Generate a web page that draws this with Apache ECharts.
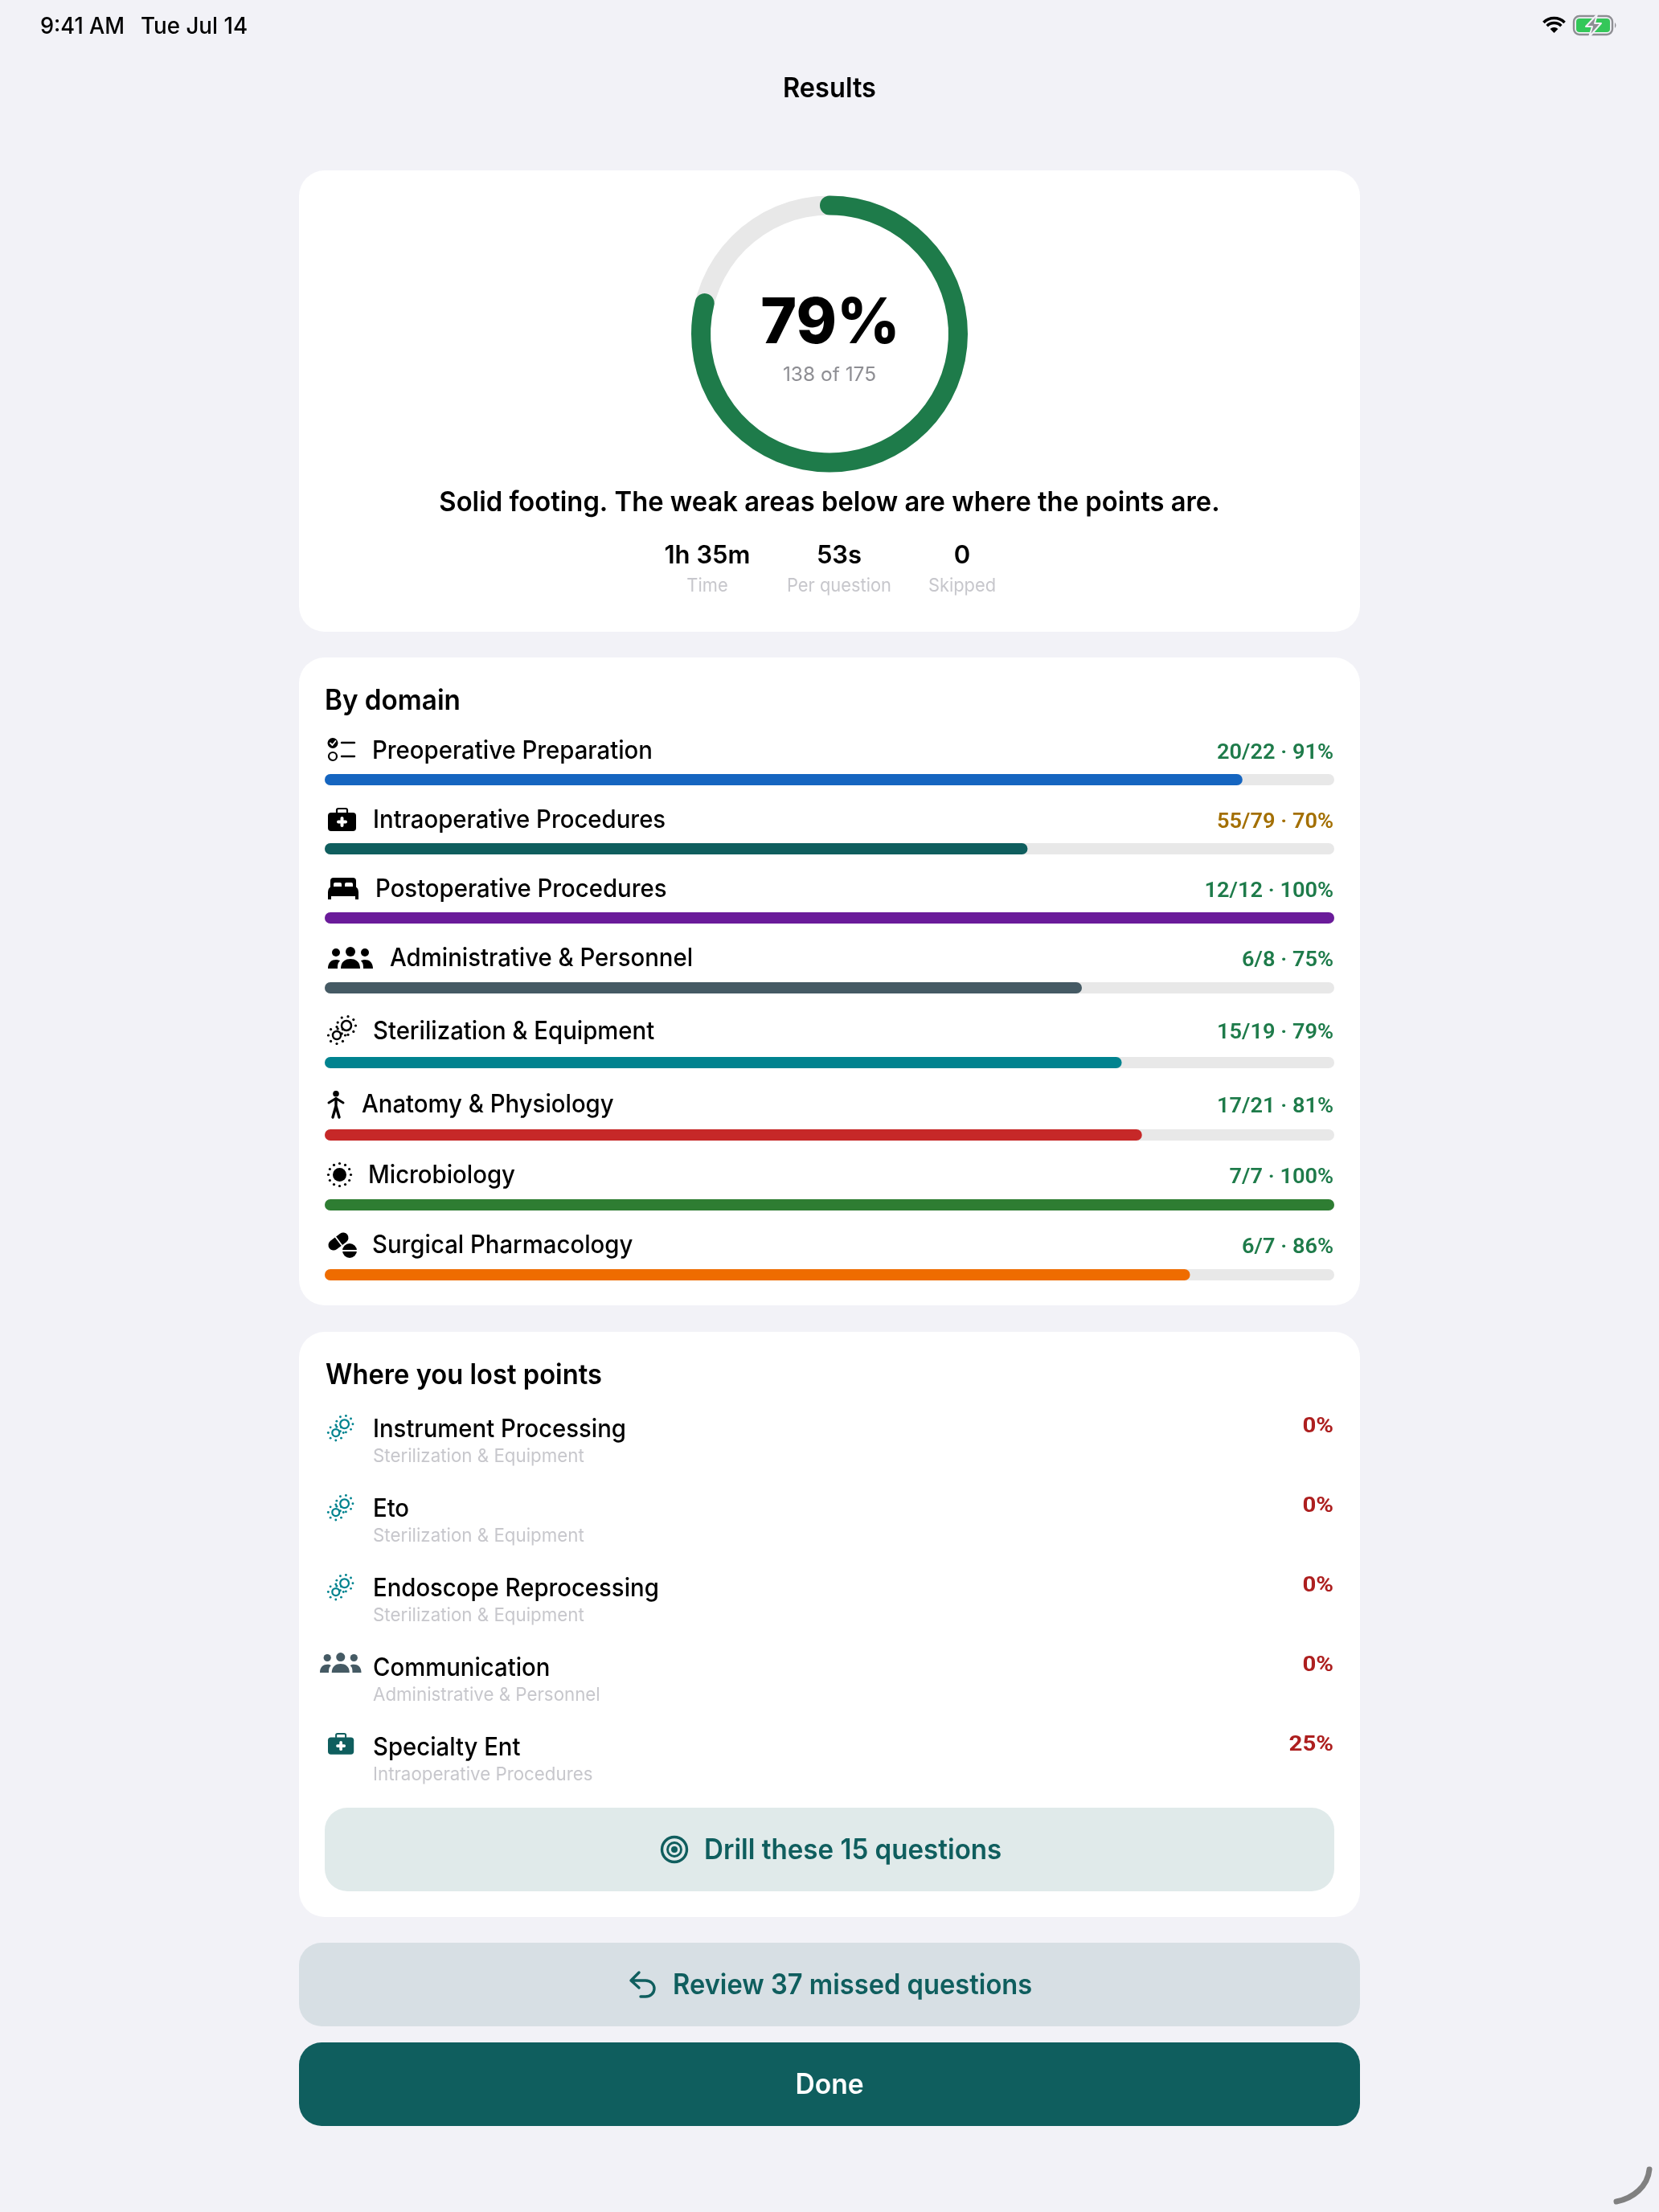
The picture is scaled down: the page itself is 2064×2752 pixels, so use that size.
<!DOCTYPE html>
<html>
<head>
<meta charset="utf-8">
<title>Results</title>
<script src="https://cdn.jsdelivr.net/npm/echarts@6/dist/echarts.min.js"></script>
<style>
html,body{margin:0;padding:0;background:#F2F2F7}
#main{width:2064px;height:2752px}
</style>
</head>
<body>
<div id="main"></div>
<script>
// score ring
var scoreCorrect = 138;
var scoreTotal = 175;

// by domain
var domains = ['Preoperative Preparation','Intraoperative Procedures','Postoperative Procedures','Administrative & Personnel','Sterilization & Equipment','Anatomy & Physiology','Microbiology','Surgical Pharmacology'];
var domainCorrect = [20,55,12,6,15,17,7,6];
var domainTotal = [22,79,12,8,19,21,7,7];
var domainPct = [91,70,100,75,79,81,100,86];

// where you lost points
var lostTopics = ['Instrument Processing','Eto','Endoscope Reprocessing','Communication','Specialty Ent'];
var lostDomains = ['Sterilization & Equipment','Sterilization & Equipment','Sterilization & Equipment','Administrative & Personnel','Intraoperative Procedures'];
var lostPct = [0,0,0,0,25];

// summary
var statValues = ['1h 35m','53s','0'];
var statLabels = ['Time','Per question','Skipped'];

// layout, kept apart from the data
var domainColors = ['#1565C0','#0F5E5E','#6A1B9A','#455A64','#00838F','#C62828','#2E7D32','#EF6C00'];
var domainIcons = ['checklist','kit','bed','people','steril','person','sun','pills'];
var barY = [970,1056,1142,1229,1322,1412,1499,1586];
var labelX = [463,464,467,485,464,450,458,463];
var labelY = [935,1021,1107,1193,1284,1375,1463,1550];
var scoreY = [937,1023,1109,1195,1285,1377,1465,1552];
var iconX = [408,408,408,408,407,408,407,408];
var iconY = [918,1005,1092,1179,1263,1357,1446,1533];
var lostY = [1779,1878,1977,2076,2175];
var lostIcon = [['steril',407,1760,'#00838F'],['steril',407,1859,'#00838F'],['steril',407,1958,'#00838F'],['people',398,2057,'#455A64'],['kit',408,2156,'#0F5E5E']];

var FONT = 'Inter';
var TEAL = '#0F5E5E';

// sx squeezes the run sideways, Inter sets wider than the original face
function txt(text,x,y,size,weight,color,align,sx,family){
	return {type:'text',z:20,silent:true,x:x,y:y,scaleX:sx||1,style:{text:text,x:0,y:0,fill:color,font:weight+' '+size+'px '+(family||FONT),textAlign:align||'left',textVerticalAlign:'middle'}};
}
function box(x,y,w,h,r,color){
	return {type:'rect',z:1,silent:true,shape:{x:x,y:y,width:w,height:h,r:r},style:{fill:color}};
}
function circle(cx,cy,r,color){
	return {type:'circle',z:20,shape:{cx:cx,cy:cy,r:r},style:{fill:color}};
}
function ring(cx,cy,r,lw,color){
	return {type:'circle',z:20,shape:{cx:cx,cy:cy,r:r},style:{fill:'none',stroke:color,lineWidth:lw}};
}
function line(x1,y1,x2,y2,lw,color){
	return {type:'line',z:20,shape:{x1:x1,y1:y1,x2:x2,y2:y2},style:{stroke:color,lineWidth:lw,lineCap:'round'}};
}
// the graphic component has no plain svg path type, so each one is registered as a shape
var pathCount = 0;
function path(d,fill,stroke,lw){
	var name = 'iconPath'+(pathCount++);
	echarts.graphic.registerShape(name,echarts.graphic.extendPath(d,{}));
	return {type:name,z:20,style:{fill:fill||'none',stroke:stroke||'none',lineWidth:lw||0,lineCap:'round',lineJoin:'round'}};
}
function dots(cx,cy,r,n,dr,color){
	var out=[];
	for(var i=0;i<n;i++){
		var a=i/n*Math.PI*2;
		out.push(circle(cx+Math.cos(a)*r,cy+Math.sin(a)*r,dr,color));
	}
	return out;
}
function box2(x,y,w,h,color){
	return {type:'rect',z:20,shape:{x:x,y:y,width:w,height:h,r:2},style:{fill:color}};
}
// small pictograms, drawn in their own local pixels
function iconParts(name,c){
	if(name=='checklist') return [
		circle(6,6.5,6.5,c),path('M3 6.5 L5.5 9 L9.5 4','none','#fff',1.8),
		ring(6,23,5,2.2,c),line(17,6,33,6,2.4,c),line(17,23,33,23,2.4,c)];
	if(name=='kit') return [
		path('M4 6 H31 Q35 6 35 10 V25 Q35 29 31 29 H4 Q0 29 0 25 V10 Q0 6 4 6 Z',c),
		path('M11 6 V3 Q11 1 13 1 H22 Q24 1 24 3 V6','none',c,2.2),
		line(17.5,13,17.5,22,4,'#fff'),line(13,17.5,22,17.5,4,'#fff')];
	if(name=='bed') return [
		path('M3 13 V4 Q3 0 7 0 H31 Q35 0 35 4 V13 Z',c),
		box2(7,6,10,7,'#fff'),box2(21,6,10,7,'#fff'),
		path('M5 11 H33 Q38 12 38 18 V27 H34 V23 H4 V27 H0 V18 Q0 12 5 11 Z',c)];
	if(name=='people') return [
		circle(10,6,5,c),circle(28,5,6,c),circle(46,6,5,c),
		path('M16 26 C16 17 22 14 28 14 C34 14 40 17 40 26 Z',c),
		path('M0 26 C0 18 5 15 10 15 C12 15 14 15.5 15 16.5 C12 19 12 22 12 26 Z',c),
		path('M56 26 C56 18 51 15 46 15 C44 15 42 15.5 41 16.5 C44 19 44 22 44 26 Z',c)];
	if(name=='steril') return [ring(24,13,6,2.5,c),ring(12,25,5,2.5,c)]
		.concat(dots(24,13,11.5,9,1.6,c)).concat(dots(12,25,10.5,8,1.6,c));
	if(name=='person') return [
		circle(10,3.8,3.8,c),
		path('M1 15 L10 9.5 L19 15','none',c,3),
		path('M10 10 V20 M10 19 L6 33 M10 19 L14 33','none',c,3.4)];
	if(name=='sun') return [circle(15.5,15.5,8.5,c)].concat(dots(15.5,15.5,14,12,1.6,c));
	if(name=='pills') return [
		line(7,16,19,7,13,c),line(9.5,6,17,16,1.8,'#fff'),
		circle(27,23,9,c),line(17,23,37,23,2,'#fff')];
	return [];
}
function icon(name,x,y,c,s){
	return {type:'group',x:x,y:y,scaleX:s||1,scaleY:s||1,silent:true,children:iconParts(name,c)};
}

var elements = [
	box(372,212,1320,574,32,'#fff'),
	box(372,818,1320,806,32,'#fff'),
	box(372,1657,1320,728,32,'#fff'),
	box(404,2249,1256,104,28,'#E0EAEA'),
	box(372,2417,1320,104,28,'#D7DFE4'),
	box(372,2541,1320,104,28,TEAL),

	// status bar
	txt('9:41 AM',50,34,28,500,'#000','left',0.97),
	txt('Tue Jul 14',175,34,28,500,'#000','left',0.99),
	{type:'group',x:1933.5,y:41,silent:true,children:[
		{type:'sector',z:20,shape:{cx:0,cy:0,r:7,startAngle:-Math.PI*0.75,endAngle:-Math.PI*0.25,clockwise:true},style:{fill:'#000'}},
		{type:'arc',z:20,shape:{cx:0,cy:0,r:12.5,startAngle:-Math.PI*0.75,endAngle:-Math.PI*0.25,clockwise:true},style:{fill:'none',stroke:'#000',lineWidth:3.6}},
		{type:'arc',z:20,shape:{cx:0,cy:0,r:18.5,startAngle:-Math.PI*0.75,endAngle:-Math.PI*0.25,clockwise:true},style:{fill:'none',stroke:'#000',lineWidth:3.6}}
	]},
	{type:'group',x:1957,y:19,silent:true,children:[
		{type:'rect',z:20,shape:{x:1,y:1,width:48,height:23,r:7},style:{fill:'none',stroke:'#8E8E93',lineWidth:2.4}},
		{type:'rect',z:20,shape:{x:4,y:4,width:42,height:17,r:4},style:{fill:'#34C759'}},
		path('M52 9 Q55 12.5 52 16 Z','#8E8E93'),
		path('M30 -1 L16 14 H24 L20 27 L35 10 H27 Z','#8E8E93','#F2F2F7',2)
	]},
	txt('Results',1032,111,34,600,'#000','center',0.957),

	// score card
	txt('79%',1033,404,78,800,'#000','center',0.98),
	txt(scoreCorrect+' of '+scoreTotal,1032,467,24,400,'#8E8E93','center',1.02),
	txt('Solid footing. The weak areas below are where the points are.',1032,626,34,600,'#000','center',0.963),

	txt('By domain',404,872,35,600,'#000','left',0.95),
	txt('Where you lost points',405,1711,35,600,'#000','left',0.935),

	// buttons
	{type:'group',x:839,y:2301,silent:true,children:[ring(0,0,15.5,3.4,TEAL),ring(0,0,8.5,2.8,TEAL),circle(0,0,4,TEAL)]},
	txt('Drill these 15 questions',876,2302,35,600,TEAL,'left',0.946),
	{type:'group',x:783,y:2453,silent:true,children:[
		path('M12 1 L2 11 L12 20 M2 11 H20 C27 11 31 16 31 21 C31 27 26 31 20 31 H14','none',TEAL,3.4)
	]},
	txt('Review 37 missed questions',837,2470,35,600,TEAL,'left',0.934),
	txt('Done',1032,2594,35,600,'#fff','center',0.96),

	// curved scrap in the corner
	{type:'group',silent:true,children:[path('M2052 2699 C2050 2720 2032 2735 2011 2739','none','#808080',7)]}
];

var statX = [880,1044,1197];
statValues.forEach(function(v,i){
	elements.push(txt(v,statX[i],692,31,600,'#000','center'));
	elements.push(txt(statLabels[i],statX[i],729,23,400,'#C7C7CC','center',0.95));
});

var grids=[],xAxes=[],yAxes=[],series=[];
domains.forEach(function(name,i){
	grids.push({left:404,width:1256,top:barY[i]-7,height:14});
	xAxes.push({type:'value',gridIndex:i,min:0,max:domainTotal[i],show:false});
	yAxes.push({type:'category',gridIndex:i,data:[name],show:false});
	series.push({
		type:'bar',xAxisIndex:i,yAxisIndex:i,barWidth:14,silent:true,
		data:[domainCorrect[i]],
		itemStyle:{color:domainColors[i],borderRadius:7},
		showBackground:true,
		backgroundStyle:{color:'#E8E8E8',borderRadius:7}
	});
	elements.push(icon(domainIcons[i],iconX[i],iconY[i],'#000'));
	elements.push(txt(name,labelX[i],labelY[i],31,500,'#000','left',0.946));
	var scoreColor = domainPct[i]>=75 ? '#1E7B4A' : '#A36F00';
	elements.push(txt(domainCorrect[i]+'/'+domainTotal[i]+' · '+domainPct[i]+'%',1659,scoreY[i],26,600,scoreColor,'right',1.045,'Roboto'));
});

lostTopics.forEach(function(name,i){
	var ic=lostIcon[i];
	var s = ic[0]=='people' ? 0.92 : (ic[0]=='steril' ? 0.9 : 0.92);
	elements.push(icon(ic[0],ic[1],ic[2],ic[3],s));
	elements.push(txt(name,464,lostY[i],31,500,'#000','left',0.945));
	elements.push(txt(lostDomains[i],464,lostY[i]+33,23,400,'#C7C7CC','left',0.97));
	elements.push(txt(lostPct[i]+'%',1659,lostY[i]-4,26,700,'#AD1F1F','right',1.13,'Roboto'));
});

// the ring is a polar bar with a rounded cap
series.push({
	type:'bar',coordinateSystem:'polar',silent:true,barWidth:'100%',roundCap:true,
	data:[scoreCorrect],
	itemStyle:{color:'#1E7B4A'},
	showBackground:true,
	backgroundStyle:{color:'#E8E8E8'}
});

var myChart = echarts.init(document.getElementById('main'),null,{renderer:'canvas'});
myChart.setOption({
	animation:false,
	backgroundColor:'#F2F2F7',
	tooltip:{show:false},
	graphic:{elements:elements},
	polar:{center:[1032,415.5],radius:[148,172]},
	angleAxis:{min:0,max:scoreTotal,startAngle:90,show:false},
	radiusAxis:{type:'category',data:['score'],show:false},
	grid:grids,
	xAxis:xAxes,
	yAxis:yAxes,
	series:series
});
</script>
</body>
</html>
